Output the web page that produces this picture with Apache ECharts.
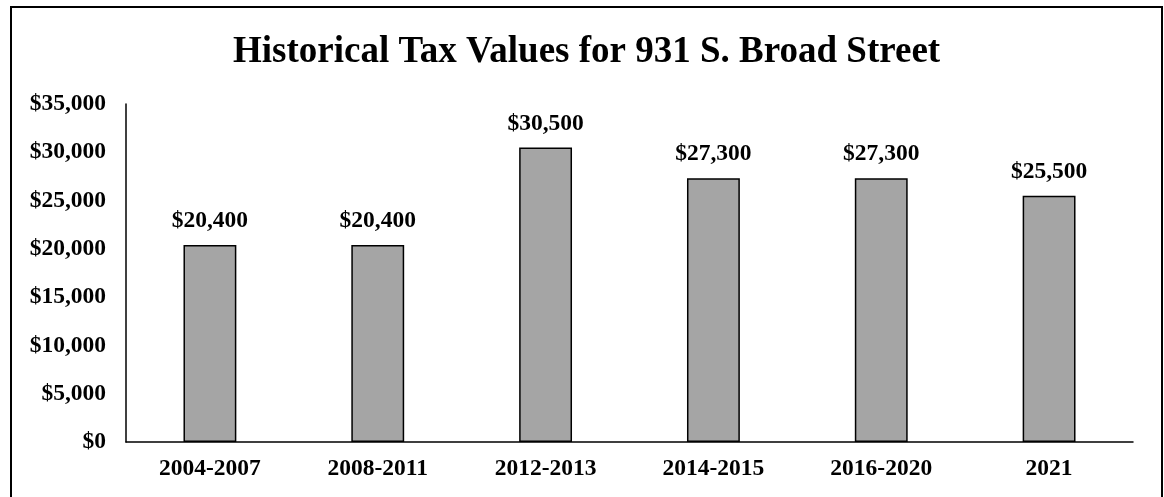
<!DOCTYPE html>
<html>
<head>
<meta charset="utf-8">
<script src="https://cdn.jsdelivr.net/npm/echarts@6/dist/echarts.min.js"></script>
<style>
html,body{margin:0;padding:0;background:#fff;}
#c{width:1164px;height:497px;}
</style>
</head>
<body>
<div id="c"></div>
<script>
const titleText = "Historical Tax Values for 931 S. Broad Street";
const categories = ["2004-2007", "2008-2011", "2012-2013", "2014-2015", "2016-2020", "2021"];
const taxValues = [20400, 20400, 30500, 27300, 27300, 25500];
const yTicks = [0, 5000, 10000, 15000, 20000, 25000, 30000, 35000];

const FONT = '"Liberation Serif", "Times New Roman", serif';
const fmt = v => '$' + v.toLocaleString('en-US');

const chart = echarts.init(document.getElementById('c'), null, {renderer: 'canvas'});
chart.setOption({
  animation: false,
  backgroundColor: '#fff',
  title: {
    text: titleText,
    left: 228,
    top: 29,
    textStyle: {fontFamily: FONT, fontWeight: 'bold', fontSize: 37, color: '#000'}
  },
  graphic: [{
    type: 'rect',
    shape: {x: 11, y: 7, width: 1151, height: 500},
    style: {fill: 'none', stroke: '#000', lineWidth: 2},
    silent: true
  }],
  grid: {left: 126, right: 31, top: 104, bottom: 55, containLabel: false},
  xAxis: {
    type: 'category',
    data: categories,
    axisLine: {show: true, lineStyle: {color: '#000', width: 1.5}},
    axisTick: {show: false},
    axisLabel: {fontFamily: FONT, fontWeight: 'bold', fontSize: 23.5, color: '#000', margin: 15}
  },
  yAxis: {
    type: 'value',
    min: yTicks[0],
    max: yTicks[yTicks.length - 1],
    interval: 5000,
    axisLine: {show: true, lineStyle: {color: '#000', width: 1.5}},
    axisTick: {show: false},
    splitLine: {show: false},
    axisLabel: {fontFamily: FONT, fontWeight: 'bold', fontSize: 23.5, color: '#000', margin: 20, formatter: fmt}
  },
  series: [{
    type: 'bar',
    data: taxValues,
    barWidth: '31.5%',
    itemStyle: {color: '#A5A5A5', borderColor: '#000', borderWidth: 1.5},
    label: {
      show: true, position: 'top', distance: 12,
      fontFamily: FONT, fontWeight: 'bold', fontSize: 23.5, color: '#000',
      formatter: p => fmt(p.value)
    }
  }]
});
</script>
</body>
</html>
